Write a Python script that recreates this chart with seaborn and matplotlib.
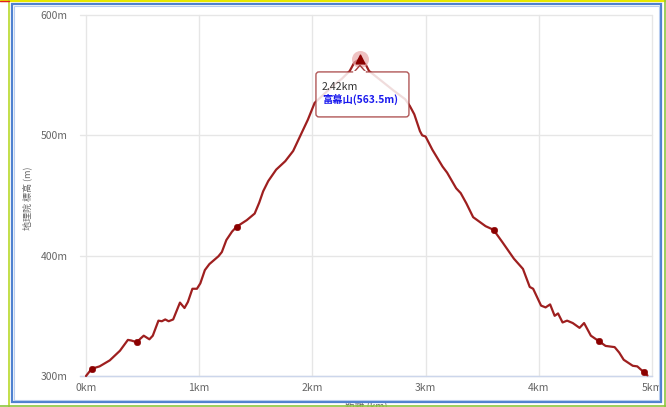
import numpy as np
import pandas as pd
import matplotlib
matplotlib.use('Agg')
import matplotlib.pyplot as plt
import matplotlib.transforms as mtransforms
from matplotlib.patches import FancyBboxPatch, Polygon, Rectangle
from matplotlib.lines import Line2D
import seaborn as sns

# elevation profile (distance in km, elevation in m)
dist_km = [0.00, 0.05, 0.12, 0.21, 0.30, 0.37, 0.40, 0.45, 0.48, 0.51,
           0.56, 0.59, 0.64, 0.67, 0.70, 0.73, 0.77, 0.83, 0.87, 0.90,
           0.94, 0.98, 1.01, 1.05, 1.09, 1.17, 1.20, 1.24, 1.29, 1.33,
           1.42, 1.49, 1.53, 1.565, 1.61, 1.68, 1.76, 1.83, 1.90, 1.96,
           2.02, 2.10, 2.18, 2.26, 2.33, 2.37, 2.42, 2.47, 2.50, 2.56,
           2.64, 2.72, 2.82, 2.86, 2.90, 2.95, 2.97, 3.00, 3.06, 3.15,
           3.19, 3.27, 3.31, 3.36, 3.42, 3.53, 3.60, 3.68, 3.78, 3.86,
           3.92, 3.95, 4.02, 4.06, 4.10, 4.14, 4.17, 4.21, 4.25, 4.30,
           4.36, 4.40, 4.46, 4.53, 4.59, 4.67, 4.71, 4.75, 4.83, 4.87,
           4.93, 4.96]
elev_m = [300, 306, 308, 313, 321, 330, 329.5, 328, 331, 333.5,
          330.5, 333.5, 346, 345.5, 347, 345.5, 347, 361, 356.5, 361.5,
          372.5, 372.5, 377, 388, 393, 399.5, 403, 413, 420, 424,
          429.5, 435, 444, 453.5, 462, 471.5, 478.5, 487, 501, 513,
          527, 534, 541, 547, 553.5, 560.5, 563.5, 559, 553.5, 549,
          543, 537, 530, 524.5, 517.5, 503.5, 500, 499, 488, 474,
          469, 456, 452, 443.5, 432, 424.5, 421.5, 411, 397.5, 389,
          374, 372.5, 358.5, 357, 359.5, 350, 352, 344.5, 346, 344,
          340, 344, 333.5, 329, 325, 324, 319.5, 313.5, 308.5, 308,
          303, 300.5]

# waypoints along the route
wp_km = [0.05, 0.45, 1.33, 3.60, 4.53, 4.93]
wp_m = [306, 328, 424, 421.5, 329, 303]

# summit
peak_km = 2.42
peak_m = 563.5
peak_name = '富幕山'

x_ticks = [0, 1, 2, 3, 4, 5]
y_ticks = [300, 400, 500, 600]

profile = pd.DataFrame({'dist': dist_km, 'elev': elev_m})
waypoints = pd.DataFrame({'dist': wp_km, 'elev': wp_m})

sns.set_style('white')
plt.rcParams['font.family'] = ['Noto Sans CJK JP', 'DejaVu Sans']

fig = plt.figure(figsize=(6.66, 4.07), dpi=100)
ax = fig.add_axes([80 / 666, 1 - 376 / 407, 572 / 666, 361 / 407])

line_col = '#9e1f1f'
sns.lineplot(data=profile, x='dist', y='elev', sort=False, color=line_col,
             linewidth=1.6, ax=ax, zorder=3, clip_on=False)
sns.scatterplot(data=waypoints, x='dist', y='elev', color='#8b0000', marker='o',
                s=22, edgecolor='#8b0000', ax=ax, zorder=4, clip_on=False)

# summit marker with halo
ax.scatter([peak_km], [peak_m], s=150, color='#e9a9a9', alpha=0.7, zorder=5,
           linewidths=0, clip_on=False)
ax.scatter([peak_km], [peak_m], s=40, marker='^', color='#8b0000', zorder=6,
           clip_on=False)

ax.set_xlim(-0.053, 5.0)
ax.set_ylim(300, 600)
ax.set_xticks(x_ticks)
ax.set_xticklabels([f'{v}km' for v in x_ticks])
ax.set_yticks(y_ticks)
ax.set_yticklabels([f'{v}m' for v in y_ticks])
ax.set_xlabel('')
ax.set_ylabel('')

ax.grid(True, color='#e6e6e6', linewidth=1)
for gl in ax.get_xgridlines() + ax.get_ygridlines():
    gl.set_clip_on(False)
for s in ['top', 'right', 'left']:
    ax.spines[s].set_visible(False)
ax.spines['bottom'].set_color('#ccd6eb')
ax.spines['bottom'].set_linewidth(1)

ax.tick_params(axis='y', length=0, pad=9, labelsize=7.5, labelcolor='#666666')
ax.tick_params(axis='x', length=3, color='#ccd6eb', pad=2, labelsize=7.5,
               labelcolor='#666666')

fig.text(27 / 666, 1 - 198 / 407, '地理院 標高 (m)', rotation=90, ha='center',
         va='center', fontsize=6.5, color='#666666')
fig.text(366 / 666, 1 - 401 / 407, '距離 (km)', ha='center', va='top',
         fontsize=7, color='#666666')

# tooltip anchored to the summit (offsets in inches)
tr = fig.dpi_scale_trans + mtransforms.ScaledTranslation(peak_km, peak_m, ax.transData)
box = FancyBboxPatch((-0.44, -0.58), 0.93, 0.45,
                     boxstyle='round,pad=0,rounding_size=0.03',
                     transform=tr, facecolor='white', alpha=0.85,
                     edgecolor='#a33a3a', linewidth=1.0, zorder=7)
fig.add_artist(box)
ptr = Polygon([(-0.06, -0.132), (0.0, -0.065), (0.06, -0.132)], closed=True,
              transform=tr, facecolor='white', edgecolor='#a33a3a',
              linewidth=1.0, zorder=7)
fig.add_artist(ptr)
fig.add_artist(Line2D([-0.055, 0.055], [-0.13, -0.13], transform=tr,
                      color='white', linewidth=1.6, zorder=7.5))
fig.text(-0.38, -0.28, f'{peak_km:.2f}km', transform=tr, ha='left', va='center',
         fontsize=7.6, color='#333333', zorder=8)
fig.text(-0.38, -0.41, f'{peak_name}({peak_m}m)', transform=tr, ha='left',
         va='center', fontsize=7.4, color='#1a1aee', fontweight='bold', zorder=8)

# frame around the screenshot
W, H = 666.0, 407.0


def fline(x0, y0, x1, y1, col, lw):
    fig.add_artist(Line2D([x0 / W, x1 / W], [1 - y0 / H, 1 - y1 / H],
                          transform=fig.transFigure, color=col, linewidth=lw,
                          zorder=20))


fline(0, 1, 666, 1, '#e8e800', 1.6)
fline(8.5, 0, 8.5, 407, '#b9d92a', 1.2)
fline(664.5, 0, 664.5, 407, '#8cc63e', 1.2)
fline(0, 405.5, 666, 405.5, '#8cc63e', 1.2)
fline(0, 0.5, 9, 0.5, '#e02020', 1.0)
fig.add_artist(Rectangle((11.5 / W, 1 - 401.5 / H), 649 / W, 398 / H,
                         transform=fig.transFigure, fill=False,
                         edgecolor='#4f81d0', linewidth=1.6, zorder=20))
fig.add_artist(Rectangle((13.5 / W, 1 - 399.5 / H), 645 / W, 394 / H,
                         transform=fig.transFigure, fill=False,
                         edgecolor='#b8cdf0', linewidth=0.8, zorder=20))

fig.savefig('out.png', dpi=100)
